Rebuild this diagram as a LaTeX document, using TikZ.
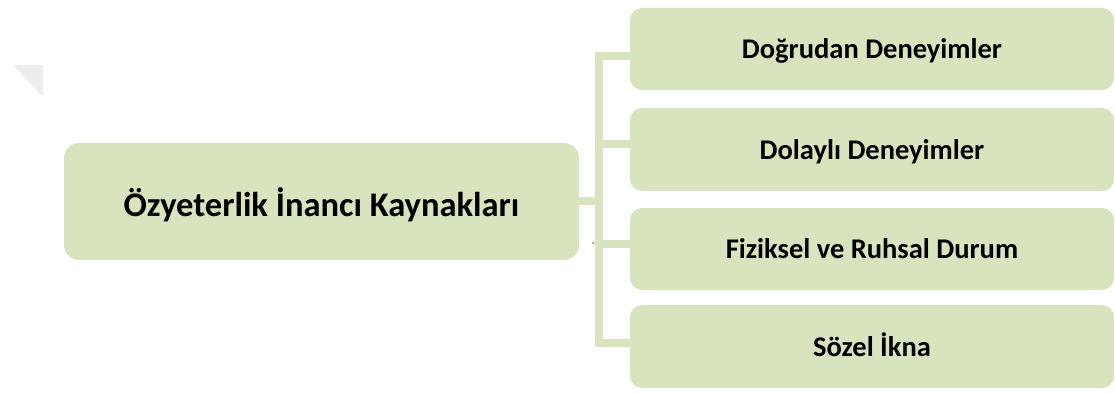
\documentclass[tikz,border=0pt]{standalone}
\usepackage{fontspec}
\setmainfont{Carlito}
\definecolor{boxgreen}{HTML}{D7E4BD}
\begin{document}
\begin{tikzpicture}[x=1pt,y=-1pt,
  leafbox/.style={fill=boxgreen,draw=none,rounded corners=12pt,inner sep=0pt,outer sep=0pt,
    minimum width=484pt,text height=19pt,text depth=0pt,
    font=\fontsize{28.5}{32}\selectfont\bfseries},
  rootbox/.style={fill=boxgreen,draw=none,rounded corners=15pt,inner sep=0pt,outer sep=0pt,
    minimum width=515pt,minimum height=117pt,text height=29pt,text depth=0pt,
    font=\fontsize{34.5}{40}\selectfont\bfseries},
  link/.style={draw=boxgreen,line width=8pt,line join=miter}]
\useasboundingbox (0,0) rectangle (1115,393);
\fill[black!7] (13,65) -- (43,65) -- (43,97) -- cycle;
\node[rootbox] (root) at (321.5,201.5) {Özyeterlik İnancı Kaynakları};
\node[leafbox,minimum height=82pt] (b1) at (872,49) {Doğrudan Deneyimler};
\node[leafbox,minimum height=83pt] (b2) at (872,149.5) {Dolaylı Deneyimler};
\node[leafbox,minimum height=82pt] (b3) at (872,249) {Fiziksel ve Ruhsal Durum};
\node[leafbox,minimum height=83pt] (b4) at (872,346.5) {Sözel İkna};
\coordinate (j1) at (599,56.5);
\coordinate (j2) at (599,144);
\coordinate (j0) at (599,201);
\coordinate (j3) at (599,243.5);
\coordinate (j4) at (599,343);
\draw[link] (j1 -| b1.west) -- (j1) -- (j4) -- (j4 -| b4.west);
\draw[link] (j2) -- (j2 -| b2.west);
\draw[link] (j3) -- (j3 -| b3.west);
\draw[link] (root.east |- j0) -- (j0);
\fill[black!55] (593,243) circle (1pt);
\end{tikzpicture}
\end{document}
